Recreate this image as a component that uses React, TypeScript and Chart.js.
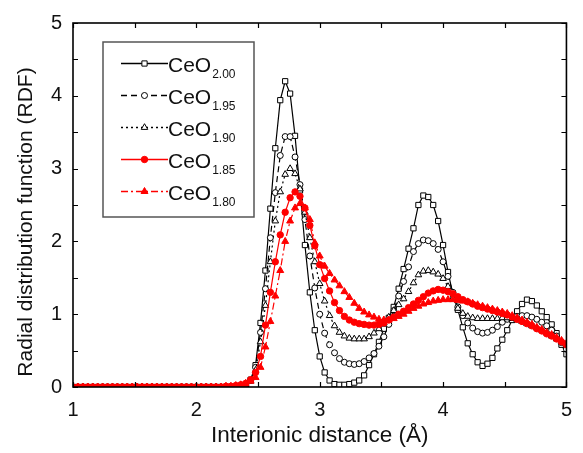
import React, { useEffect, useRef } from 'react';
import { Chart, registerables } from 'chart.js';

Chart.register(...registerables);

// Interionic distance grid (Å)
const distance = [
  1.00, 1.04, 1.08, 1.12, 1.16, 1.20, 1.24, 1.28, 1.32, 1.36,
  1.40, 1.44, 1.48, 1.52, 1.56, 1.60, 1.64, 1.68, 1.72, 1.76,
  1.80, 1.84, 1.88, 1.92, 1.96, 2.00, 2.04, 2.08, 2.12, 2.16,
  2.20, 2.24, 2.28, 2.32, 2.36, 2.40, 2.44, 2.48, 2.52, 2.56,
  2.60, 2.64, 2.68, 2.72, 2.76, 2.80, 2.84, 2.88, 2.92, 2.96,
  3.00, 3.04, 3.08, 3.12, 3.16, 3.20, 3.24, 3.28, 3.32, 3.36,
  3.40, 3.44, 3.48, 3.52, 3.56, 3.60, 3.64, 3.68, 3.72, 3.76,
  3.80, 3.84, 3.88, 3.92, 3.96, 4.00, 4.04, 4.08, 4.12, 4.16,
  4.20, 4.24, 4.28, 4.32, 4.36, 4.40, 4.44, 4.48, 4.52, 4.56,
  4.60, 4.64, 4.68, 4.72, 4.76, 4.80, 4.84, 4.88, 4.92, 4.96,
  5.00,
];

const ceo200 = [
  0, 0, 0, 0, 0, 0, 0, 0, 0, 0,
  0, 0, 0, 0, 0, 0, 0, 0, 0, 0,
  0, 0, 0, 0, 0, 0, 0, 0, 0, 0,
  0, 0, 0, 0, 0.01, 0.03, 0.10, 0.30, 0.88, 1.60,
  2.45, 3.28, 3.94, 4.20, 4.03, 3.45, 2.70, 1.95, 1.30, 0.78,
  0.42, 0.20, 0.09, 0.04, 0.03, 0.03, 0.04, 0.06, 0.09, 0.16,
  0.30, 0.45, 0.62, 0.80, 0.95, 1.10, 1.35, 1.62, 1.90, 2.18,
  2.50, 2.63, 2.61, 2.50, 2.28, 1.95, 1.58, 1.27, 1.06, 0.82,
  0.60, 0.45, 0.34, 0.29, 0.32, 0.40, 0.53, 0.65, 0.78, 0.92,
  1.04, 1.14, 1.20, 1.18, 1.12, 1.04, 0.96, 0.86, 0.74, 0.58,
  0.45,
];

const ceo195 = [
  0, 0, 0, 0, 0, 0, 0, 0, 0, 0,
  0, 0, 0, 0, 0, 0, 0, 0, 0, 0,
  0, 0, 0, 0, 0, 0, 0, 0, 0, 0,
  0, 0, 0, 0, 0.01, 0.03, 0.09, 0.27, 0.75, 1.35,
  2.05, 2.67, 3.18, 3.44, 3.44, 3.16, 2.78, 2.30, 1.80, 1.36,
  1.00, 0.74, 0.58, 0.47, 0.39, 0.34, 0.32, 0.31, 0.32, 0.35,
  0.40, 0.46, 0.56, 0.69, 0.86, 1.05, 1.25, 1.45, 1.65, 1.86,
  1.97, 2.02, 2.01, 1.97, 1.89, 1.72, 1.52, 1.30, 1.10, 0.98,
  0.88, 0.81, 0.76, 0.74, 0.75, 0.78, 0.83, 0.89, 0.93, 0.96,
  0.97, 0.98, 0.98, 0.96, 0.93, 0.89, 0.84, 0.78, 0.70, 0.61,
  0.52,
];

const ceo190 = [
  0, 0, 0, 0, 0, 0, 0, 0, 0, 0,
  0, 0, 0, 0, 0, 0, 0, 0, 0, 0,
  0, 0, 0, 0, 0, 0, 0, 0, 0, 0,
  0, 0, 0, 0, 0.01, 0.03, 0.08, 0.23, 0.62, 1.12,
  1.72, 2.28, 2.68, 2.92, 3.00, 2.93, 2.72, 2.40, 2.05, 1.72,
  1.42, 1.18, 0.98, 0.84, 0.75, 0.70, 0.67, 0.66, 0.66, 0.66,
  0.69, 0.74, 0.80, 0.88, 0.96, 1.05, 1.13, 1.21, 1.31, 1.43,
  1.54, 1.59, 1.60, 1.58, 1.55, 1.49, 1.38, 1.22, 1.08, 1.01,
  0.97, 0.95, 0.94, 0.94, 0.94, 0.94, 0.94, 0.95, 0.95, 0.94,
  0.92, 0.90, 0.87, 0.84, 0.81, 0.78, 0.74, 0.70, 0.66, 0.62,
  0.58,
];

const ceo185 = [
  0, 0, 0, 0, 0, 0, 0, 0, 0, 0,
  0, 0, 0, 0, 0, 0, 0, 0, 0, 0,
  0, 0, 0, 0, 0, 0, 0, 0, 0, 0,
  0, 0.01, 0.01, 0.02, 0.03, 0.05, 0.10, 0.20, 0.42, 0.85,
  1.30, 1.72, 2.09, 2.40, 2.60, 2.68, 2.62, 2.46, 2.22, 1.94,
  1.68, 1.49, 1.32, 1.16, 1.05, 0.97, 0.92, 0.89, 0.87, 0.86,
  0.85, 0.85, 0.86, 0.88, 0.92, 0.96, 1.00, 1.04, 1.09, 1.14,
  1.19, 1.24, 1.29, 1.32, 1.34, 1.33, 1.31, 1.28, 1.24, 1.20,
  1.17, 1.14, 1.11, 1.09, 1.07, 1.05, 1.03, 1.01, 0.99, 0.96,
  0.93, 0.90, 0.87, 0.84, 0.80, 0.77, 0.73, 0.70, 0.66, 0.62,
  0.58,
];

const ceo180 = [
  0, 0, 0, 0, 0, 0, 0, 0, 0, 0,
  0, 0, 0, 0, 0, 0, 0, 0, 0, 0,
  0, 0, 0, 0, 0, 0, 0, 0, 0, 0,
  0, 0.01, 0.01, 0.02, 0.03, 0.05, 0.08, 0.13, 0.27, 0.55,
  0.90, 1.25, 1.60, 2.00, 2.28, 2.46, 2.52, 2.46, 2.30, 1.98,
  1.80, 1.66, 1.56, 1.47, 1.39, 1.31, 1.23, 1.15, 1.08, 1.03,
  0.99, 0.96, 0.93, 0.92, 0.92, 0.94, 0.97, 1.00, 1.04, 1.08,
  1.11, 1.14, 1.16, 1.18, 1.19, 1.20, 1.20, 1.20, 1.19, 1.18,
  1.17, 1.15, 1.13, 1.11, 1.09, 1.07, 1.05, 1.03, 1.01, 0.98,
  0.95, 0.92, 0.89, 0.86, 0.82, 0.79, 0.75, 0.72, 0.68, 0.64,
  0.60,
];

const seriesBase = ['CeO', 'CeO', 'CeO', 'CeO', 'CeO'];
const seriesSub = ['2.00', '1.95', '1.90', '1.85', '1.80'];
const xTickValues = [1, 2, 3, 4, 5];
const yTickValues = [0, 1, 2, 3, 4, 5];
const xMarkValues = [1, 1.5, 2, 2.5, 3, 3.5, 4, 4.5, 5];
const yMarkValues = [0, 0.5, 1, 1.5, 2, 2.5, 3, 3.5, 4, 4.5, 5];
const xTitle = 'Interionic distance (Å)';
const yTitle = 'Radial distribution function (RDF)';

const FONT = "'Liberation Sans', Arial, Helvetica, sans-serif";

type Style = {
  color: string;
  dash: number[];
  point: 'rect' | 'circle' | 'triangle';
  radius: number;
  fill: string;
};

const styles: Style[] = [
  { color: '#000000', dash: [], point: 'rect', radius: 3.7, fill: '#ffffff' },
  { color: '#000000', dash: [6, 4], point: 'circle', radius: 3.0, fill: '#ffffff' },
  { color: '#000000', dash: [2, 3], point: 'triangle', radius: 3.8, fill: '#ffffff' },
  { color: '#ff0000', dash: [], point: 'circle', radius: 3.2, fill: '#ff0000' },
  { color: '#ff0000', dash: [7, 3, 2, 3], point: 'triangle', radius: 4.0, fill: '#ff0000' },
];

const seriesValues = [ceo200, ceo195, ceo190, ceo185, ceo180];

function drawMarker(ctx: CanvasRenderingContext2D, s: Style, x: number, y: number) {
  ctx.save();
  ctx.setLineDash([]);
  ctx.lineWidth = 1;
  ctx.strokeStyle = s.color;
  ctx.fillStyle = s.fill;
  ctx.beginPath();
  const r = s.radius;
  if (s.point === 'rect') {
    const h = r * Math.SQRT1_2;
    ctx.rect(x - h, y - h, 2 * h, 2 * h);
  } else if (s.point === 'circle') {
    ctx.arc(x, y, r, 0, Math.PI * 2);
  } else {
    let a = 0;
    ctx.moveTo(x + Math.sin(a) * r, y - Math.cos(a) * r);
    a += (2 * Math.PI) / 3;
    ctx.lineTo(x + Math.sin(a) * r, y - Math.cos(a) * r);
    a += (2 * Math.PI) / 3;
    ctx.lineTo(x + Math.sin(a) * r, y - Math.cos(a) * r);
    ctx.closePath();
  }
  ctx.fill();
  ctx.stroke();
  ctx.restore();
}

const framePlugin = {
  id: 'frameTicks',
  afterDatasetsDraw(chart: any) {
    const { ctx, chartArea, scales } = chart;
    const { left, right, top, bottom } = chartArea;
    ctx.save();
    ctx.strokeStyle = '#000';
    ctx.lineWidth = 1.2;
    ctx.setLineDash([]);
    const tl = 5;
    ctx.beginPath();
    xMarkValues.forEach((v) => {
      const px = Math.round(scales.x.getPixelForValue(v)) + 0.5;
      ctx.moveTo(px, bottom);
      ctx.lineTo(px, bottom - tl);
      ctx.moveTo(px, top);
      ctx.lineTo(px, top + tl);
    });
    yMarkValues.forEach((v) => {
      const py = Math.round(scales.y.getPixelForValue(v)) + 0.5;
      ctx.moveTo(left, py);
      ctx.lineTo(left + tl, py);
      ctx.moveTo(right, py);
      ctx.lineTo(right - tl, py);
    });
    ctx.stroke();
    ctx.lineWidth = 1.6;
    ctx.strokeRect(left, top, right - left, bottom - top);
    ctx.restore();
  },
  afterDraw(chart: any) {
    const { ctx } = chart;
    ctx.save();
    // y-axis title
    ctx.save();
    ctx.translate(26, 222);
    ctx.rotate(-Math.PI / 2);
    ctx.fillStyle = '#111111';
    ctx.font = `21px ${FONT}`;
    ctx.textAlign = 'center';
    ctx.textBaseline = 'middle';
    ctx.fillText(yTitle, 0, 0);
    ctx.restore();

    const bx = 103, by = 42, bw = 151, bh = 175;
    ctx.fillStyle = '#ffffff';
    ctx.fillRect(bx, by, bw, bh);
    ctx.strokeStyle = '#555555';
    ctx.lineWidth = 1.5;
    ctx.strokeRect(bx, by, bw, bh);
    styles.forEach((s, i) => {
      const y = 63.5 + i * 32;
      ctx.save();
      ctx.strokeStyle = s.color;
      ctx.lineWidth = 1.3;
      ctx.setLineDash(s.dash);
      ctx.beginPath();
      ctx.moveTo(121, y);
      ctx.lineTo(168, y);
      ctx.stroke();
      ctx.restore();
      drawMarker(ctx, s, 144.5, y);
      ctx.fillStyle = '#111111';
      ctx.textBaseline = 'alphabetic';
      ctx.textAlign = 'left';
      ctx.font = `21px ${FONT}`;
      ctx.fillText(seriesBase[i], 168, y + 8);
      const w = ctx.measureText(seriesBase[i]).width;
      ctx.font = `12px ${FONT}`;
      ctx.fillText(seriesSub[i], 168 + w + 1, y + 14);
    });
    ctx.restore();
  },
};

export default function App() {
  const ref = useRef<HTMLCanvasElement | null>(null);

  useEffect(() => {
    if (!ref.current) return;
    const datasets = seriesValues.map((vals, i) => {
      const s = styles[i];
      return {
        label: seriesBase[i] + seriesSub[i],
        data: distance.map((x, j) => ({ x, y: vals[j] })),
        borderColor: s.color,
        borderWidth: 1.2,
        borderDash: s.dash,
        pointStyle: s.point,
        pointRadius: s.radius,
        pointBorderWidth: 1,
        pointBackgroundColor: s.fill,
        pointBorderColor: s.color,
        fill: false,
        tension: 0,
        order: 5 - i,
      };
    });

    const chart = new Chart(ref.current, {
      type: 'line',
      data: { datasets },
      options: {
        animation: false,
        responsive: true,
        maintainAspectRatio: false,
        layout: { padding: { top: 12, right: 12, left: 0, bottom: 0 } },
        plugins: { legend: { display: false }, tooltip: { enabled: false } },
        scales: {
          x: {
            type: 'linear',
            min: 1,
            max: 5,
            afterBuildTicks: (scale: any) => {
              scale.ticks = xTickValues.map((v) => ({ value: v }));
            },
            afterFit: (scale: any) => {
              scale.height = 66;
            },
            grid: { display: false, drawTicks: false },
            border: { display: false },
            ticks: {
              font: { size: 20, family: FONT },
              color: '#111111',
              padding: 11,
              maxRotation: 0,
              callback: (v: any) => String(v),
            },
            title: {
              display: true,
              text: xTitle,
              font: { size: 22.5, family: FONT },
              color: '#111111',
              padding: { top: 0, bottom: 4 },
            },
          },
          y: {
            type: 'linear',
            min: 0,
            max: 5,
            afterBuildTicks: (scale: any) => {
              scale.ticks = yTickValues.map((v) => ({ value: v }));
            },
            afterFit: (scale: any) => {
              scale.width = 73;
            },
            grid: { display: false, drawTicks: false },
            border: { display: false },
            ticks: {
              font: { size: 20, family: FONT },
              color: '#111111',
              padding: 11,
              callback: (v: any) => String(v),
            },
            title: { display: false },
          },
        },
      },
      plugins: [framePlugin],
    } as any);

    return () => chart.destroy();
  }, []);

  return (
    <div style={{ position: 'fixed', left: 0, top: 0, width: 583, height: 453, background: '#ffffff' }}>
      <canvas ref={ref} />
    </div>
  );
}
